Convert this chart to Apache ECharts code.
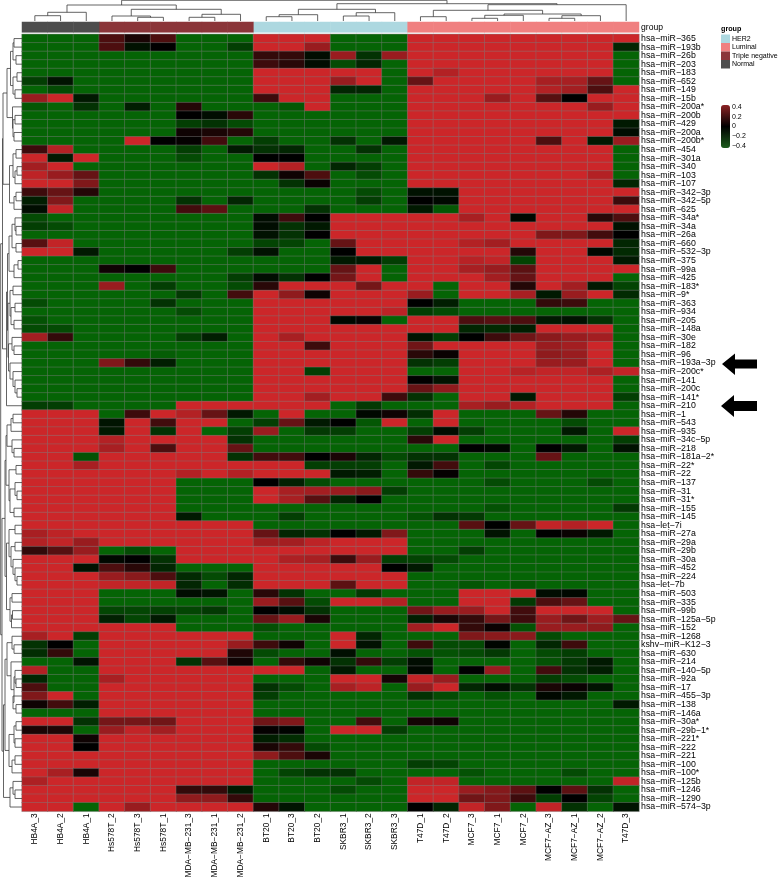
<!DOCTYPE html>
<html><head><meta charset="utf-8">
<style>html,body{margin:0;padding:0;background:#fff}#c{width:778px;height:879px}</style>
<script src="https://cdn.jsdelivr.net/npm/echarts@6/dist/echarts.min.js"></script>
</head><body><div id="c"></div>
<script>
const samples=["HB4A_3","HB4A_2","HB4A_1","Hs578T_2","Hs578T_3","Hs578T_1","MDA−MB−231_3","MDA−MB−231_1","MDA−MB−231_2","BT20_1","BT20_3","BT20_2","SKBR3_1","SKBR3_2","SKBR3_3","T47D_1","T47D_2","MCF7_3","MCF7_1","MCF7_2","MCF7−AZ_3","MCF7−AZ_1","MCF7−AZ_2","T47D_3"];
const sampleGroups=["Normal","Normal","Normal","Triple negative","Triple negative","Triple negative","Triple negative","Triple negative","Triple negative","HER2","HER2","HER2","HER2","HER2","HER2","Luminal","Luminal","Luminal","Luminal","Luminal","Luminal","Luminal","Luminal","Luminal"];
const groupNames=["HER2","Luminal","Triple negative","Normal"];
const groupColors=["#add8e0","#f08080","#8b3539","#4d4d4d"];
const mirnas=["hsa−miR−365","hsa−miR−193b","hsa−miR−26b","hsa−miR−203","hsa−miR−183","hsa−miR−652","hsa−miR−149","hsa−miR−15b","hsa−miR−200a*","hsa−miR−200b","hsa−miR−429","hsa−miR−200a","hsa−miR−200b*","hsa−miR−454","hsa−miR−301a","hsa−miR−340","hsa−miR−103","hsa−miR−107","hsa−miR−342−3p","hsa−miR−342−5p","hsa−miR−625","hsa−miR−34a*","hsa−miR−34a","hsa−miR−26a","hsa−miR−660","hsa−miR−532−3p","hsa−miR−375","hsa−miR−99a","hsa−miR−425","hsa−miR−183*","hsa−miR−9*","hsa−miR−363","hsa−miR−934","hsa−miR−205","hsa−miR−148a","hsa−miR−30e","hsa−miR−182","hsa−miR−96","hsa−miR−193a−3p","hsa−miR−200c*","hsa−miR−141","hsa−miR−200c","hsa−miR−141*","hsa−miR−210","hsa−miR−1","hsa−miR−543","hsa−miR−935","hsa−miR−34c−5p","hsa−miR−218","hsa−miR−181a−2*","hsa−miR−22*","hsa−miR−22","hsa−miR−137","hsa−miR−31","hsa−miR−31*","hsa−miR−155","hsa−miR−145","hsa−let−7i","hsa−miR−27a","hsa−miR−29a","hsa−miR−29b","hsa−miR−30a","hsa−miR−452","hsa−miR−224","hsa−let−7b","hsa−miR−503","hsa−miR−335","hsa−miR−99b","hsa−miR−125a−5p","hsa−miR−152","hsa−miR−1268","kshv−miR−K12−3","hsa−miR−630","hsa−miR−214","hsa−miR−140−5p","hsa−miR−92a","hsa−miR−17","hsa−miR−455−3p","hsa−miR−138","hsa−miR−146a","hsa−miR−30a*","hsa−miR−29b−1*","hsa−miR−221*","hsa−miR−222","hsa−miR−221","hsa−miR−100","hsa−miR−100*","hsa−miR−125b","hsa−miR−1246","hsa−miR−1290","hsa−miR−574−3p"];
// expression per row, in tenths (−4 … 4), in sample order
const rowValues=[
[-4,-4,-4,1.5,.5,1.5,-4,-4,-4,4,4,4,-4,-4,-4,4,4,4,4,4,4,4,4,4],
[-4,-4,-4,1.5,-.7,0,-4,-4,-2.5,4,4,3,-4,-4,-4,4,4,4,4,4,4,4,4,-1.5],
[-4,-4,-4,-4,-4,-4,-4,-4,-4,1,1,-.5,3,-2,3,4,4,4,4,4,4,4,4,-4],
[-4,-4,-4,-4,-4,-4,-4,-4,-4,1.2,.8,-.5,-3,-1.5,-4,4,4,4,4,4,4,4,4,-4],
[-4,-4,-4,-4,-4,-4,-4,-4,-4,4,4,4,4,4,-4,4,3.5,4,4,4,4,4,4,-4],
[-2.5,-.8,-4,-4,-4,-4,-4,-4,-4,4,4,4,3,4,-4,2,4,4,4,4,3.3,3.3,2,-4],
[-4,-3,-4,-4,-4,-4,-4,-4,-4,4,4,4,-1.5,-1.5,-4,4,4,4,4,4,3.5,3.2,1.5,4],
[3,4,-1,-4,-4,-4,-4,-4,-4,1.2,4,4,-4,-4,-4,4,4,4,3,4,1.7,0,4,4],
[-3.5,-4,-2,-4,-1.2,-4,.7,-4,-4,-4,-3.5,4,-4,-4,-4,4,4,4,4,4,4,4,3,4],
[-4,-4,-4,-4,-4,-4,0,-.5,.8,-4,-4,-4,-4,-4,-4,4,4,4,4,4,4,4,4,4],
[-4,-4,-4,-4,-4,-4,-2.5,-2,-3,-4,-4,-4,-4,-4,-4,4,4,4,4,4,4,4,4,-1],
[-4,-4,-4,-4,-4,-4,.3,.5,.7,-4,-4,-4,-4,-4,-4,4,4,4,4,4,4,4,4,-.5],
[-4,-4,-4,-4,4,0,.1,1.3,-4,-2.5,-4,-4,-2,-4,-1,4,4,4,4,4,1.5,4,-1,3],
[1.2,3.5,-4,-4,-4,-4,-2.5,-4,-1,-2,-1.5,-4,-4,-2,-4,4,4,4,4,4,4,4,4,-4],
[4,-1,4,-4,-4,-4,-3,-4,-4,0,0,-4,-4,-4,-4,4,4,4,4,4,4,4,4,-4],
[3.2,4,-4,-4,-4,-4,-4,-4,-4,4,3.5,-4,-1.5,-2.5,-4,4,4,4,4,4,4,4,4,-4],
[3.7,3,2,-4,-4,-4,-4,-4,-4,-2,.3,1.5,-4,-3,-4,4,4,4,4,4,4,4,3.5,-4],
[4,4,2.5,-4,-4,-4,-4,-4,-4,-4,-2,.2,-4,-4,-4,4,4,4,4,4,4,4,4,-1.5],
[1.2,2,.7,-4,-4,-4,-4,-4,-4,-4,-4,-4,-4,-3,-4,-.7,-.7,4,4,4,4,4,4,4],
[-1.2,2.5,-4,-4,-4,-4,-2,-4,-1.5,-4,-4,-4,-4,-2.5,-4,0,-.3,4,4,4,4,4,4,1.2],
[-.5,3.8,-4,-4,-4,-4,1.3,1.8,-4,-4,-4,-2,-4,-4,-4,-1,-3.5,4,4,4,4,4,4,4],
[-3,-4,-4,-4,-4,-4,-4,-4,-4,-.5,1.2,0,4,4,4,4,4,3.3,4,-.3,4,4,.8,1.5],
[-2.5,-3,-4,-4,-4,-4,-4,-4,-4,-.5,-2,-1,4,4,4,4,4,4,4,4,4,4,4,-.7],
[-4,-4,-4,-4,-4,-4,-4,-4,-4,-.7,-2,0,4,4,4,4,4,4,4,4,2.5,2.5,1.3,0],
[1.7,3.8,-4,-4,-4,-4,-4,-4,-4,-2.7,-2.7,-4,2,4,4,4,4,3.5,3.2,4,4,4,4,-1.5],
[4,4,-1,-4,-4,-4,-4,-4,-2.5,-.7,-4,-4,0,4,4,4,4,4,4,.7,4,4,-.3,-1.7],
[-4,-4,-4,-4,-4,-4,-4,-4,-4,-4,-4,-4,-1,-1,-2.5,4,4,3.6,3.8,-2.7,4,4,4,-1],
[-4,-4,-4,.3,0,1.2,-4,-4,-4,-4,-4,-4,2,4,-4,4,4,3.3,3,1.8,4,4,4,4],
[-4,-4,-4,-4,-4,-4,-4,-4,-2.5,-.5,-2,0,2.3,4,-4,4,4,4,3.2,2,4,4,4,-4],
[-4,-4,-4,3,-4,-2.5,-4,-4,-3,.8,4,4,4,2.3,4,4,-4,4,4,.7,4,3.2,-1,-2.7],
[-4,-4,-4,-4,-4,-4,-2.3,-4,1.3,4,2.8,.3,4,4,4,3,-4,4,4,3.3,-1,3,4,-1.7],
[-3,-4,-4,-4,-4,-2,-4,-4,-4,4,4,4,4,4,4,0,-1.2,-4,-4,-4,1,1.2,-4,-4],
[-4,-4,-4,-4,-4,-4,-3,-4,-4,4,4,4,4,4,3.7,-2.5,-3,-4,-4,-4,-4,-4,-4,-4],
[-3.3,-4,-4,-4,-4,-4,-4,-4,-4,4,4,4,-.3,.2,-4,4,4,1.5,1.7,1.5,-1,-.7,-2,-4],
[-3,-3,-4,-4,-4,-4,-4,-4,-4,4,4,4,4,4,4,4,4,-1.5,-1.7,-1.2,4,4,4,-4],
[3.2,1,-4,-4,-4,-4,-2.5,-1.2,-4,4,3.3,4,4,4,4,-.8,-2.5,0,1.2,2.2,2.7,3,3.2,-4],
[-4,-4,-4,-4,-4,-4,-4,-4,-4,4,4,1.2,4,4,4,2.2,4,4,4,4,3,3.2,4,-4],
[-4,-4,-4,-4,-4,-3.7,-4,-4,-4,4,4,4,4,4,4,.8,.2,4,4,4,2.8,3,4,-4],
[-4,-4,-4,2.5,1,-1.2,-4,-4,-4,4,4,4,4,4,4,-2,-2.5,4,4,4,3,3,4,-4],
[-4,-4,-4,-4,-4,-4,-4,-4,-4,4,4,-2.5,4,4,4,-4,-4,4,4,3.6,3.8,3.8,3.4,3.8],
[-4,-4,-4,-4,-4,-4,-4,-4,-4,4,4,4,4,4,4,0,-.8,4,4,4,4,4,4,-4],
[-4,-4,-4,-4,-4,-4,-4,-4,-4,4,4,4,4,4,4,2,2.8,4,4,4,4,4,4,-4],
[-4,-4,-4,-4,-4,-4,-4,-4,-4,4,4,3.2,4,4,1.2,-2,-4,4,4,-1,4,4,4,-2.5],
[-2.5,-2.5,-4,-4,-4,-4,4,4,4,4,4,4,-4,-2.3,-4,-4,-4,3.3,3,3.5,4,4,4,-4],
[4,4,4,-4,1.2,4,3.5,2,-1,-4,4,-4,-4,-.3,.3,-1.8,4,-4,-4,-4,2,.7,-4,-4],
[4,4,4,-.8,4,1.3,4,4,-4,-2.5,2,-1,0,-3.5,4,-4,4,-4,-4,-4,-4,-3,-4,-4],
[4,4,4,-1,4,-2,4,-4,-2.5,3,-4,-2.3,-2.5,-4,-4,-2.5,-.5,-2.5,-4,-4,-4,-1,-4,4],
[4,4,4,3.5,4,4,4,4,-2,-4,-4,-4,-4,-4,-4,.8,4,-4,-4,-4,-4,-4,-4,-2.5],
[4,4,4,3.3,4,1.5,4,4,2,-4,-4,-4,-4,-4,-4,-4,-4,0,-.3,-4,0,-1,-4,-.7],
[4,4,-3.3,4,4,4,4,4,-2,1.3,1.3,0,.5,-1.5,-3,-2,-2,-4,-4,-4,2,-4,-4,-4],
[4,4,3.3,4,4,4,4,4,4,4,4,-2.5,-2.5,-2.5,-4,-1,1.3,-4,-2.8,-4,-4,-4,-4,-4],
[4,4,4,4,4,4,3.5,4,3.5,4,4,4,-1,-1.2,-4,1,.1,-4,-4,-4,-4,-4,-4,-4],
[4,4,4,4,4,4,-4,-4,-4,0,-1.3,-3,-4,-4,-4,-4,-4,-4,-3,-4,-4,-4,-3,-4],
[4,4,4,4,4,4,-4,-4,-4,4,3.3,3.2,3,2.7,-2.5,-4,-4,-4,-4,-4,-4,-4,-4,-4],
[4,4,4,4,4,4,-4,-4,-4,4,3.3,1.7,-1.5,0,-4,-4,-4,-4,-4,-4,-4,-4,-4,-4],
[4,4,4,4,4,4,-4,-4,-4,-4,-4,-4,-4,-4,-4,-4,-4,-4,-3.3,-4,-4,-4,-4,-2.3],
[4,4,4,4,4,4,-1,-4,-4,-4,-2.5,-4,-4,-4,-4,-3.3,-2,-2.3,-4,-4,-4,-4,-4,-4],
[4,4,4,4,4,4,4,4,4,-4,-4,-4,-4,-4,-4,-4,-4,1.7,0,2,3.8,3.5,4,-4],
[3.3,3.7,4,4,4,4,4,4,4,2,-1.5,-2,0,-1,2.5,-4,-4,-4,-.8,-4,0,.2,-1,-4],
[3.5,3.8,3,4,4,4,4,4,4,3.2,3.2,3.7,4,4,4,-4,-4,-4,-4,-4,-4,-4,-4,-4],
[1,1.7,3,-4,-3,-4,4,4,4,4,4,4,4,4,4,-4,-4,-2.5,-4,-4,-4,-4,-4,-4],
[4,4,4,-.3,0,-2,4,4,4,4,3.4,3.3,1.2,3,-2.5,-2.7,-3,-4,-4,-4,-4,-4,-4,-4],
[4,4,-.7,1.5,.8,-1.5,-4,-4,-4,4,4,4,4,4,0,-1,-4,-4,-4,-4,-4,-4,-4,-4],
[4,4,4,3,2.7,1.5,-1.7,-3,-1.5,4,4,4,4,4,4,-4,-4,-4,-4,-4,-4,-4,-4,-4],
[4,4,4,3.8,3.8,3.8,-1.5,-4,-1.8,4,4,4,1.8,4,4,-4,-4,-3.4,-4,-3.4,-4,-4,-4,-4],
[4,4,4,-4,-4,-4,-.5,-.8,-4,.8,-2,-4,-4,-2.3,-4,-4,-4,4,4,4,-.5,-.3,-4,-4],
[4,4,4,-4,-4,-4,-4,-4,-4,3,1.7,-3,4,4,3.5,-4,-4,4,4,-2.3,1.5,2,-4,-4],
[4,4,4,-2.8,-2.8,-2.6,-2.8,-2.3,-4,0,-.5,-2,-4,-4,-4,2.2,3,3,4,1.3,4,4,4,-4],
[4,4,4,-1.3,-2.8,-1,-4,-4,-4,2,3,.5,-4,-4,-4,-1.2,.5,1,2.3,1.2,3,2.2,3.1,2],
[4,4,4,4,4,4,-4,-4,-4,-3.2,-4,-4,-4,-4,-4,3.2,4,1,.2,-3.3,3,3,2.8,-4],
[3.3,4,-2.5,4,4,4,4,4,4,-4,-4,-4,4,-1.5,-4,-4,-4,2.5,2.7,2.7,-3,-4,-4,-4],
[-2,0,-4,4,4,4,4,4,3,1.2,.3,-4,4,-.7,-4,1.2,-3,-3,-.2,-4,-1.5,1.2,-4,-4],
[-1.8,1,-4,4,4,4,4,4,.6,-3,-4,-4,-.6,-4,-4,-3.3,-3.3,-3,-2.3,-4,-3,-2.5,-4,-4],
[-4,-4,-.8,4,4,4,-2,1.7,.3,-4,1,.3,-2,1,-2.5,-.5,-4,-4,-4,-4,-3.3,-2.3,-1,-4],
[3.5,-4,-4,4,4,4,4,4,4,4,4,-4,-1,-4,-4,-.3,-4,0,3,-4,1.3,-2,-1.2,-4],
[-1.5,-4,-4,3.3,4,4,4,4,4,-4,-4,-4,4,4,.4,3.8,3,-4,-4,-4,-2.5,-3,-4,-4],
[1.5,-4,-4,4,4,4,4,4,4,-2,-3,-4,3.3,3.7,-4,3,4,-1.5,-.5,-2,.5,.2,-.8,-4],
[2.5,4,-4,4,4,4,4,4,4,-2.5,-4,-4,-4,-4,-4,-2,-3,-4,-3.3,-4,-.3,-1,-4,-4],
[.3,1.3,-1.2,4,4,4,4,4,4,-4,-4,-4,-4,-4,-4,-4,-4,-4,-4,-4,-4,-4,-4,-1],
[-4,-4,-4,4,4,4,4,4,4,-4,-4,-4,-4,-4,-4,-4,-4,-4,-4,-4,-4,-4,-4,-4],
[4,4,-2,2.3,2.3,2.2,4,4,4,2.2,2.5,-4,-4,1.3,-4,.4,.3,-4,-4,-4,-4,-4,-4,-4],
[.5,.6,-4,3,3.8,3.2,4,4,4,.1,-.1,-4,4,4,-2.5,-4,-4,-4,-4,-4,-4,-4,-4,-4],
[4,4,.3,4,4,4,4,4,4,-1.2,-1.8,-4,-4,-4,-4,-4,-4,-4,-4,-4,-4,-4,-4,-4],
[4,4,0,4,4,4,4,4,4,.5,1,-3,-4,-4,-4,-4,-4,-4,-4,-4,-4,-4,-4,-4],
[4,4,4,4,4,4,4,4,4,2.8,1.5,.5,-4,-4,-4,-4,-4,-4,-4,-4,-4,-4,-4,-4],
[4,4,4,4,4,4,4,4,4,-4,-4,-4,-4,-4,-4,-2.5,-2.7,-4,-4,-4,-4,-4,-4,-4],
[4,3.3,.5,4,4,4,4,4,4,-4,-2.7,-2,-2,-4,-4,-4,-4,-3.3,-4,-4,-4,-3,-4,-4],
[3.4,4,4,4,4,4,4,4,4,-4,-4,-4,-4,-3,-4,3.8,3.8,-4,-4,-4,-4,-4,-4,3.8],
[4,4,4,4,4,4,1,1,-1,-4,-4,-4,-3,-4,-4,4,4,3,2.6,1.8,0,1.8,-2,-4],
[4,4,4,4,4,4,2.8,2.8,1,-4,-4,-4,-4,-4,-4,4,4,2.2,2.5,1.2,-2.5,0,-2.7,-4],
[4,4,-4,4,3,4,4,4,4,.7,-.8,-4,-4,-4,-4,0,-1.5,3.8,2.5,-4,3.8,-2,-4,-.8]
];
const legendTicks=["0.4","0.2","0","−0.2","−0.4"];
// dendrogram trees: [merge level, childA, childB]; a number is a leaf index
const colTree=[20.7,[16,[8.7,[5.3,0,1],2],[11.7,[5,3,[3.7,4,5]],[6.7,[3.7,6,7],8]]],[17.3,[11.7,[6.3,[4.3,9,10],11],[8.3,[5,12,13],14]],[16.3,[10.7,[4.3,15,16],[7,[5.7,[2.7,17,18],19],[5.3,[2.7,20,21],22]]],23]]];
const rowA1=[3,[7,[10.5,[13,[14,0,1],[16,2,3]],[13,[17,4,5],[15,6,7]]],[12.5,8,[13,[15,9,10],[14,11,12]]]],[9.5,[13,[16,13,14],[15,[17,15,16],17]],[14,[16,18,19],20]]];
const rowA2=[6.5,[7.5,[9,[12,[15,21,[16,22,23]],[16,24,25]],[14,[18,26,27],28]],[8,[10,[13,29,30],[11,[15,31,32],[14,33,34]]],[8.5,[12,35,[14,36,37]],[10,38,[13,39,[15,40,[17,41,42]]]]]]],43];
const rowB1=[5,[6,[7,[11,[13,44,45],46],[12,47,[14,48,49]]],[9,[16,50,51],[10,[15,52,[17,53,54]],[14,55,56]]]],[6.5,[9,[15,57,58],[11,[15,59,60],[13,61,[15,62,[17,63,64]]]]],[10,[12,65,66],[11.5,[12.5,67,68],69]]]];
const rowB2=[3.5,[5,[7,[12,70,[14,71,72]],[11,73,[14,[15,74,[16,75,76]],[13,77,[16,78,79]]]]],[9,[14,[16,80,81],[15,82,83]],[12,[15,84,85],86]]],[10,[13,87,[15,88,89]],90]];
const rowTree=[.7,[2.5,rowA1,rowA2],[2,rowB1,rowB2]];

function merges(tree,leafLevel){const out=[];(function walk(n){if(typeof n==='number')return [n+.5,leafLevel];const a=walk(n[1]),b=walk(n[2]);out.push([a[0],a[1],b[0],b[1],n[0]]);return [(a[0]+b[0])/2,n[0]];})(tree);return out;}
const heatData=[];rowValues.forEach((row,y)=>row.forEach((v,x)=>heatData.push([x,y,v/10])));
const gx=22,gw=617,gy=34.3,gh=777;
const lbl={fontFamily:'Liberation Sans, Arial, sans-serif',color:'#000'};
const chart=echarts.init(document.getElementById('c'),null,{renderer:'canvas'});
const treeRender=(horizontal)=>(p,api)=>{
 const c=horizontal?(a,b)=>api.coord([a,b]):(a,b)=>api.coord([b,a]);
 const A=api.value(0),Ah=api.value(1),B=api.value(2),Bh=api.value(3),H=api.value(4);
 return {type:'polyline',shape:{points:[c(A,Ah),c(A,H),c(B,H),c(B,Bh)]},style:{fill:null,stroke:'#3c3c3c',lineWidth:.8},silent:true};
};
const groupSeries=groupNames.map((g,i)=>({type:'heatmap',name:g,xAxisIndex:1,yAxisIndex:1,itemStyle:{color:groupColors[i]},data:sampleGroups.map((s,x)=>s===g?[x,0,1]:null).filter(Boolean),silent:true}));
const mkGrid=(left,top,width,height)=>({left,top,width,height,containLabel:false,outerBoundsMode:'none'});
chart.setOption({
 animation:false,backgroundColor:'#fff',
 grid:[mkGrid(gx,gy,gw,gh),mkGrid(gx,22,gw,10.3),mkGrid(gx,0,gw,21),mkGrid(0,gy,22,gh)],
 xAxis:[
  {type:'category',gridIndex:0,data:samples,position:'bottom',axisLine:{show:false},axisTick:{show:false},splitLine:{show:false},axisLabel:{...lbl,interval:0,rotate:90,fontSize:8.4,margin:2}},
  {type:'category',gridIndex:1,data:samples,show:false},
  {type:'value',gridIndex:2,min:0,max:24,show:false},
  {type:'value',gridIndex:3,min:0,max:22,show:false}],
 yAxis:[
  {type:'category',gridIndex:0,data:mirnas,inverse:true,position:'right',axisLine:{show:false},axisTick:{show:false},splitLine:{show:false},axisLabel:{...lbl,interval:0,fontSize:8.8,margin:2,align:'left'}},
  {type:'category',gridIndex:1,data:['group'],position:'right',axisLine:{show:false},axisTick:{show:false},axisLabel:{...lbl,fontSize:8.6,margin:2,align:'left'}},
  {type:'value',gridIndex:2,min:0,max:21,show:false},
  {type:'value',gridIndex:3,min:0,max:91,inverse:true,show:false}],
 legend:{data:groupNames,orient:'vertical',left:721,top:34.5,padding:0,itemWidth:9,itemHeight:8.5,itemGap:0,icon:'rect',selectedMode:false,textStyle:{...lbl,fontSize:7,padding:[0,0,0,-3]}},
 visualMap:[
  {type:'continuous',show:false,seriesIndex:0,dimension:2,min:-.4,max:.4,inRange:{color:['#056405','#000000','#cc2629']}},
  {type:'continuous',show:true,seriesIndex:7,min:-.45,max:.45,left:721,top:105,itemWidth:9,itemHeight:43,padding:0,calculable:false,hoverLink:false,realtime:false,text:null,showLabel:false,inRange:{color:['#1c5c1c','#000000','#8c2224']}}],
 series:[
  {type:'heatmap',xAxisIndex:0,yAxisIndex:0,data:heatData,itemStyle:{borderColor:'rgba(125,125,125,.8)',borderWidth:.5},silent:true,progressive:0},
  ...groupSeries,
  {type:'custom',xAxisIndex:2,yAxisIndex:2,data:merges(colTree,0),renderItem:treeRender(true),clip:false,silent:true},
  {type:'custom',xAxisIndex:3,yAxisIndex:3,data:merges(rowTree,22),renderItem:treeRender(false),clip:false,silent:true},
  {type:'scatter',xAxisIndex:2,yAxisIndex:2,data:[],silent:true}],
 graphic:[
  {type:'text',left:721,top:25.5,style:{text:'group',fontFamily:lbl.fontFamily,fontSize:7.2,fontWeight:'bold',fill:'#000'}},
  ...legendTicks.map((t,i)=>({type:'text',x:732,y:[107,117,126.3,136,146][i],style:{text:t,fontFamily:lbl.fontFamily,fontSize:7,fill:'#000',verticalAlign:'middle'}})),
  {type:'polygon',shape:{points:[[722,364],[735,353.5],[735,359.5],[757,359.5],[757,368.5],[735,368.5],[735,375]]},style:{fill:'#000'}},
  {type:'polygon',shape:{points:[[721,406],[734,395],[734,401],[757,401],[757,411],[734,411],[734,417]]},style:{fill:'#000'}}
 ]
});
</script></body></html>
